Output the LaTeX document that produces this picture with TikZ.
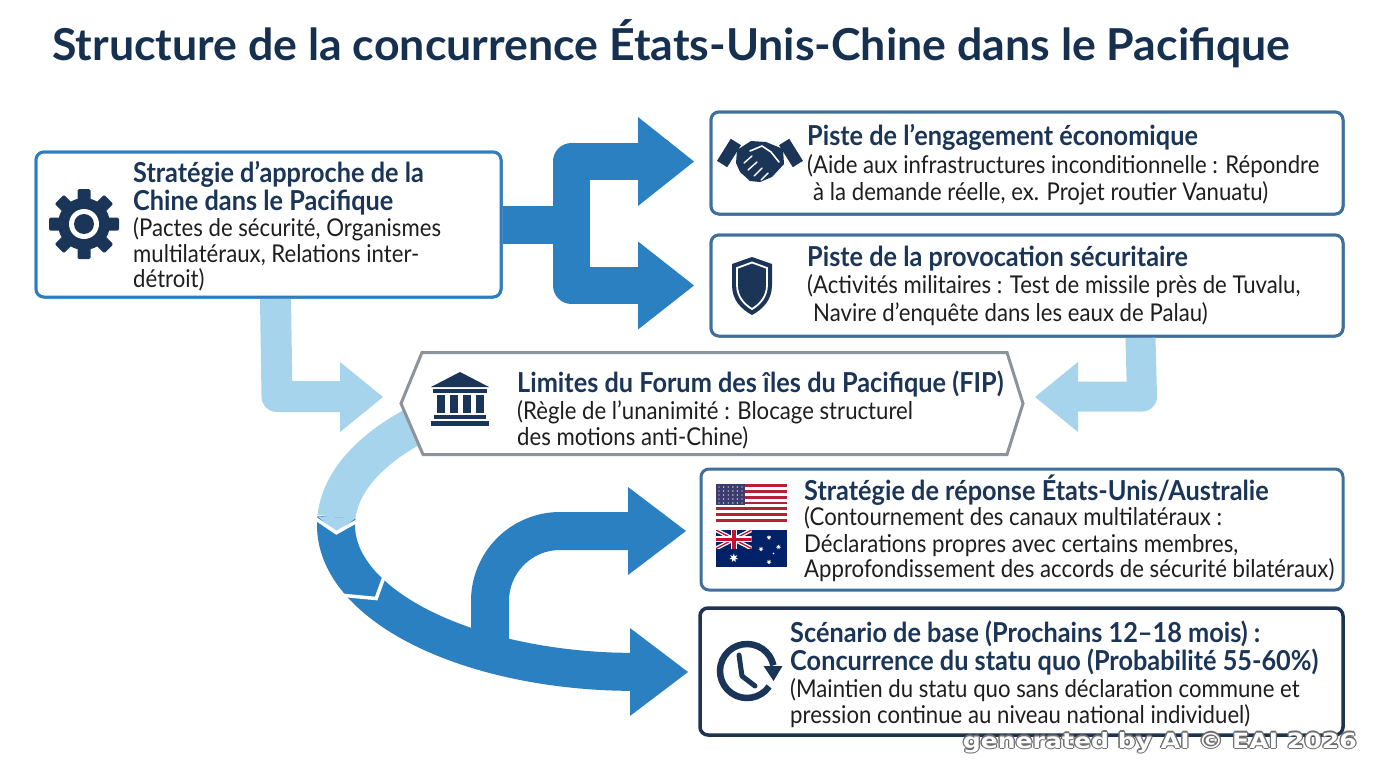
\documentclass[tikz,border=0pt]{standalone}
\usepackage{fontspec}
\usepackage{graphicx}
\setmainfont{Lato}
\newfontfamily\condf{Lato}[FakeStretch=0.905]
\newfontfamily\condh{Lato}[FakeStretch=0.92]
\newfontfamily\wmf{DejaVu Sans}
\usetikzlibrary{calc,shapes.geometric}
\definecolor{cnavy}{HTML}{1B3558}
\definecolor{ctitle}{HTML}{163050}
\definecolor{cbody}{HTML}{1E1E1E}
\definecolor{csteel}{HTML}{3F6F9B}
\definecolor{cboxA}{HTML}{2F7DC0}
\definecolor{cboxE}{HTML}{1D3350}
\definecolor{cgray}{HTML}{8D939A}
\definecolor{cdark}{HTML}{2A80C1}
\definecolor{clight}{HTML}{A7D4ED}
\definecolor{cusred}{HTML}{B22234}
\definecolor{cusblue}{HTML}{3C3B6E}
\definecolor{caublue}{HTML}{012169}
\definecolor{caured}{HTML}{C8102E}
\definecolor{cwmedge}{HTML}{707070}
\tikzset{
  hd/.style={font=\condh\bfseries\fontsize{27.5}{30}\selectfont, text=cnavy, anchor=base west, inner sep=0pt},
  bd/.style={font=\condf\fontsize{24.5}{27}\selectfont, text=cbody, anchor=base west, inner sep=0pt},
  card/.style={draw=csteel, line width=3pt, rounded corners=8pt, fill=white, inner sep=0pt},
  darkshaft/.style={draw=cdark, line width=38pt, line join=round},
  lightshaft/.style={draw=clight, line width=31pt, line join=round},
  chev/.style={draw=white, line width=3.5pt, line join=miter},
  wm/.style={anchor=base east, inner sep=0pt, font=\wmf\bfseries\fontsize{21}{24}\selectfont},
}
\begin{document}
\begin{tikzpicture}[x=1pt,y=-1pt]
\useasboundingbox (0,0) rectangle (1376,768);
\fill[white] (0,0) rectangle (1376,768);

% ---------- title
\node[anchor=base west, inner sep=0pt, text=ctitle, font=\bfseries\fontsize{44}{50}\selectfont] (T) at (52,61)
  {\resizebox{1238pt}{\height}{Structure de la concurrence États-Unis-Chine dans le Pacifique}};

% ---------- node frames
\node[card, draw=cboxA, minimum width=465pt, minimum height=145pt] (A) at (268.5,224.5) {};
\node[card, minimum width=632pt, minimum height=102pt] (B) at (1027,163) {};
\node[card, minimum width=632pt, minimum height=101pt] (C) at (1027,285.5) {};
\node[card, minimum width=642pt, minimum height=121pt] (D) at (1022,529.5) {};
\node[card, draw=cboxE, line width=3.5pt, minimum width=643pt, minimum height=127pt] (E) at (1021.5,671.5) {};
\node[minimum width=622pt, minimum height=102pt, inner sep=0pt, outer sep=0pt] (F) at (712,403.5) {};

% ---------- big curved arrow (light + dark segments)
\draw[clight, line width=38pt] ({636+300*cos(232)},{525+147*sin(232)})
   arc[start angle=232, end angle=183, x radius=300, y radius=147];
\draw[cdark, line width=38pt] ({636+300*cos(183)},{525+147*sin(183)})
   arc[start angle=183, end angle=95, x radius=300, y radius=147] -- (632,672);
\fill[cdark] (630,628) -- (688,672) -- (630,716) -- cycle;
% light point of first segment
\fill[clight] ({636+319*cos(183)},{525+166*sin(183)}) -- ({636+300*cos(177)},{525+147*sin(177)})
   -- ({636+281*cos(183)},{525+128*sin(183)}) -- cycle;
\draw[chev] ({636+325*cos(183)},{525+172*sin(183)}) -- ({636+300*cos(177)},{525+147*sin(177)})
   -- ({636+275*cos(183)},{525+122*sin(183)});
\draw[chev] ({636+325*cos(156)},{525+172*sin(156)}) -- ({636+300*cos(150)},{525+147*sin(150)})
   -- ({636+275*cos(156)},{525+122*sin(156)});

% ---------- C-shaped arrow to D
\coordinate (c0) at (490,655);
\coordinate (c1) at (490,531);
\coordinate (c2) at (632,531);
\draw[darkshaft, rounded corners=70pt] (c0) -- (c1) -- (c2);
\fill[cdark] (628,487) -- (686,531) -- (628,575) -- cycle;

% ---------- fork arrow from A to B and C
\coordinate (f0) at (572,224.5);
\coordinate (f1) at (640,161.5);
\coordinate (f2) at (571.5,161.5);
\coordinate (f3) at (571.5,285.5);
\coordinate (f4) at (640,285.5);
\draw[darkshaft] (A.east) -- (f0);
\draw[darkshaft, line width=37pt] (f1) -- (f2) -- (f3) -- (f4);
\fill[cdark] (638,117) -- (694,161.5) -- (638,206) -- cycle;
\fill[cdark] (638,241.5) -- (694,285.5) -- (638,329.5) -- cycle;

% ---------- light arrows into FIP
\coordinate (l1) at (277,396.5);
\coordinate (l2) at (342,396.5);
\draw[lightshaft] ($(A.south west)+(241,0)$) -- (l1) -- (l2);
\fill[clight] (340,362) -- (383,397) -- (340,432) -- cycle;
\coordinate (r1) at (1142,396.5);
\coordinate (r2) at (1076,396.5);
\draw[lightshaft, line width=30pt] ($(C.south west)+(431,0)$) -- (r1) -- (r2);
\fill[clight] (1078,362) -- (1035,397) -- (1078,432) -- cycle;

% ---------- hexagon FIP
\filldraw[fill=white, draw=cgray, line width=3pt, line join=miter]
  (F.west) -- ($(F.north west)+(21,0)$) -- ($(F.north east)+(-16,0)$) -- (F.east)
  -- ($(F.south east)+(-16,0)$) -- ($(F.south west)+(22,0)$) -- cycle;

% redraw frames on top
\node[card, draw=cboxA, minimum width=465pt, minimum height=145pt] (A2) at (A) {};
\node[card, minimum width=632pt, minimum height=102pt] (B2) at (B) {};
\node[card, minimum width=632pt, minimum height=101pt] (C2) at (C) {};

% ---------- icons
% gear
\fill[cnavy] (84,224) circle (26);
\foreach \a in {0,45,...,315} {\fill[cnavy, rounded corners=1.5pt, rotate around={\a:(84,224)}] (77.5,189) rectangle (90.5,204);}
\fill[white] (84,224) circle (15);
\fill[cnavy] (84,224) circle (10);
% handshake
\fill[cnavy, rotate around={-32:(729,153)}] (723,140) rectangle (735,166);
\fill[cnavy, rotate around={32:(791,153)}] (785,140) rectangle (797,166);
\fill[cnavy] (737,150) -- (751,141) -- (766,142) -- (783,149) -- (784,164) -- (772,177) -- (760,182)
  -- (750,181) -- (740,172) -- (736,163) -- cycle;
\draw[white, line width=1.6pt, line cap=round] (750,151) -- (762,146) -- (771,152) -- (779,162);
\draw[white, line width=1.4pt, line cap=round] (744,163) -- (752,156) (748,170) -- (757,162) (754,176) -- (762,168) (761,180) -- (768,173);
% shield
\fill[cnavy] (752,257) -- (772,264) -- (772,285) .. controls (772,300) and (763,309) .. (752,315)
  .. controls (741,309) and (732,300) .. (732,285) -- (732,264) -- cycle;
\draw[white, line width=1.8pt] (752,262.5) -- (767,268) -- (767,285) .. controls (767,297) and (759.5,304.5) .. (752,309)
  .. controls (744.5,304.5) and (737,297) .. (737,285) -- (737,268) -- cycle;
% bank
\fill[cnavy] (431,387) -- (460,372) -- (489,387) -- cycle;
\fill[cnavy] (433,389) rectangle (487,393);
\foreach \cx in {436.5,449.5,462.5,475.5} {\fill[cnavy] (\cx,395) rectangle ({\cx+8},413);}
\fill[cnavy] (434,415) rectangle (486,419);
\fill[cnavy] (431,421) rectangle (489,426);
% US flag
\fill[cusred] (716,484) rectangle (787,522);
\foreach \i in {1,...,6} {\fill[white] (716,{484+(2*\i-1)*2.923}) rectangle (787,{484+2*\i*2.923});}
\fill[cusblue] (716,484) rectangle (745,504.5);
\foreach \r in {0,...,4} {\foreach \c in {0,...,5} {\fill[white] ({719+\c*4.6},{487+\r*4}) circle (0.7);}}
% Australian flag
\fill[caublue] (716,530) rectangle (787,567);
\begin{scope}
  \clip (716,530) rectangle (751.5,548.5);
  \draw[white, line width=4pt] (716,530) -- (751.5,548.5) (716,548.5) -- (751.5,530);
  \draw[caured, line width=1.3pt] (716,530) -- (751.5,548.5) (716,548.5) -- (751.5,530);
  \draw[white, line width=6pt] (733.75,530) -- (733.75,548.5) (716,539.25) -- (751.5,539.25);
  \draw[caured, line width=3.5pt] (733.75,530) -- (733.75,548.5) (716,539.25) -- (751.5,539.25);
\end{scope}
\node[star, star points=7, star point ratio=2.2, fill=white, minimum size=9pt, inner sep=0pt] (s0) at (733.75,558) {};
\foreach \sx/\sy [count=\k] in {769/537.5, 761/549, 778.5/547, 769/562} {\node[star, star points=7, star point ratio=2.2, fill=white, minimum size=5pt, inner sep=0pt] (s\k) at (\sx,\sy) {};}
\fill[white] (773.5,553.5) circle (0.9);
% clock
\draw[cnavy, line width=6.5pt] ({747+27*cos(35)},{671+27*sin(35)}) arc[start angle=35, end angle=348, radius=27];
\fill[cnavy] (763.5,666) -- (782.5,666) -- (773.5,681) -- cycle;
\draw[cnavy, line width=5pt, line cap=round, line join=round] (739,655) -- (742,676) -- (755,686);

% ---------- texts
\node[hd] (a1) at (133,182) {Stratégie d’approche de la};
\node[hd] (a2) at (133,210) {Chine dans le Pacifique};
\node[bd] (a3) at (133,236) {(Pactes de sécurité, Organismes};
\node[bd] (a4) at (133,262) {multilatéraux, Relations inter-};
\node[bd] (a5) at (133,287) {détroit)};

\node[hd] (b1) at (807,145) {Piste de l’engagement économique};
\node[bd] (b2) at (807,173) {(Aide aux infrastructures inconditionnelle : Répondre};
\node[bd] (b3) at (813,200) {à la demande réelle, ex. Projet routier Vanuatu)};

\node[hd] (c1t) at (807,266) {Piste de la provocation sécuritaire};
\node[bd] (c2t) at (807,293) {(Activités militaires : Test de missile près de Tuvalu,};
\node[bd] (c3t) at (813,321) {Navire d’enquête dans les eaux de Palau)};

\node[hd] (h1) at (517,392) {Limites du Forum des îles du Pacifique (FIP)};
\node[bd] (h2) at (517,419) {(Règle de l’unanimité : Blocage structurel};
\node[bd] (h3) at (517,445) {des motions anti-Chine)};

\node[hd] (d1) at (804,500) {Stratégie de réponse États-Unis/Australie};
\node[bd] (d2) at (804,525) {(Contournement des canaux multilatéraux :};
\node[bd] (d3) at (804,552) {Déclarations propres avec certains membres,};
\node[bd] (d4) at (804,577) {Approfondissement des accords de sécurité bilatéraux)};

\node[hd] (e1) at (790,642) {Scénario de base (Prochains 12–18 mois) :};
\node[hd] (e2) at (790,670) {Concurrence du statu quo (Probabilité 55-60\%)};
\node[bd] (e3) at (790,697) {(Maintien du statu quo sans déclaration commune et};
\node[bd] (e4) at (790,723) {pression continue au niveau national individuel)};

% ---------- watermark
\foreach \dx/\dy [count=\k] in {1.3/0,-1.3/0,0/1.3,0/-1.3,0.9/0.9,-0.9/0.9,0.9/-0.9,-0.9/-0.9}
  {\node[wm, text=cwmedge] (wmo\k) at ({1357+\dx},{748+\dy}) {\resizebox{394pt}{\height}{generated by AI © EAI 2026}};}
\node[wm, text=white] (wm) at (1357,748) {\resizebox{394pt}{\height}{generated by AI © EAI 2026}};
\end{tikzpicture}
\end{document}
